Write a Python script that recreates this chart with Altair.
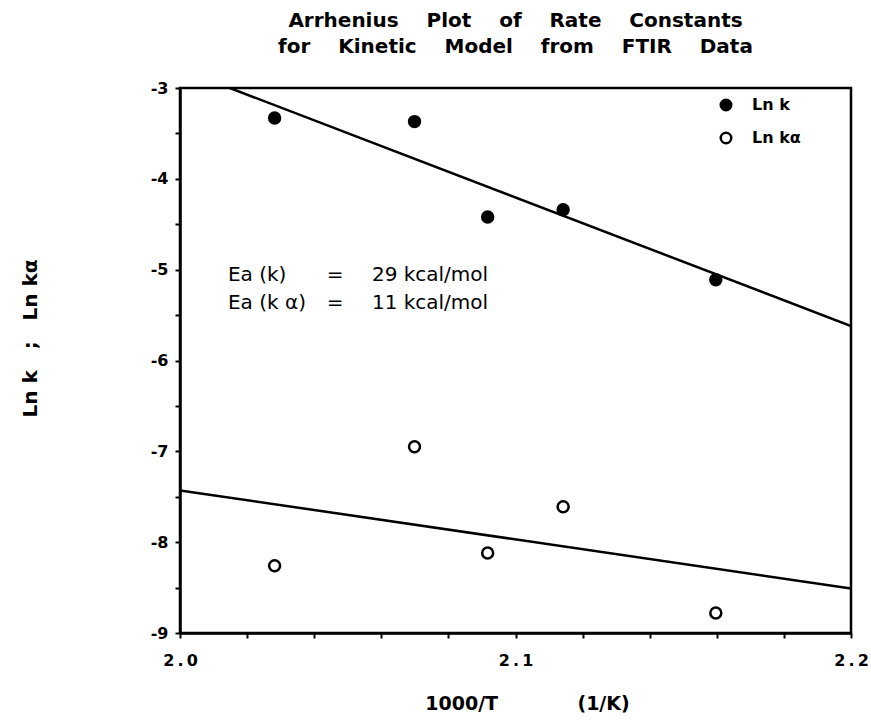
import altair as alt
import pandas as pd

# Reciprocal temperature, 1000/T (1/K)
inv_temp = [2.0282, 2.0699, 2.0917, 2.1142, 2.1597]
# Natural logs of the two rate constants
ln_k = [-3.33, -3.37, -4.42, -4.34, -5.11]
ln_ka = [-8.26, -6.95, -8.12, -7.61, -8.78]
series_names = ["Ln k", "Ln k\u03b1"]

# Least-squares Arrhenius fits, evaluated at the ends of the axis
fit_x = [2.0, 2.2]
fit_k = [-2.79, -5.62]
fit_ka = [-7.43, -8.51]

# Activation energies from the fitted slopes
ea_labels = ["Ea (k)", "Ea (k \u03b1)"]
ea_values = ["29 kcal/mol", "11 kcal/mol"]

FONT = "DejaVu Sans"
NB = "\u00a0"

points = pd.DataFrame({
    "inv_T": inv_temp * 2,
    "ln": ln_k + ln_ka,
    "series": [series_names[0]] * len(ln_k) + [series_names[1]] * len(ln_ka),
})
fits = pd.DataFrame({
    "inv_T": fit_x * 2,
    "ln": fit_k + fit_ka,
    "series": [series_names[0]] * 2 + [series_names[1]] * 2,
})
notes = pd.DataFrame({
    "label": ea_labels,
    "value": ea_values,
    "eq": ["=", "="],
})
notes["y"] = [-5.06, -5.37]

x_ticks = [round(2.0 + 0.02 * i, 2) for i in range(11)]
y_ticks = [-9 + 0.5 * i for i in range(13)]

x_enc = alt.X(
    "inv_T:Q",
    scale=alt.Scale(domain=[2.0, 2.2], nice=False, zero=False),
    axis=alt.Axis(
        values=x_ticks,
        labelExpr="abs(datum.value*10 - round(datum.value*10)) < 0.001 ? "
                  "replace(format(datum.value, '.1f'), '.', '\u2009.\u2009') : ''",
        labelFlush=False,
        title="1000/T" + NB * 12 + "(1/K)",
        titleX=347,
        titleY=70,
        titleBaseline="middle",
        titleAlign="center",
        titleFontSize=19,
        labelPadding=14,
    ),
)
y_enc = alt.Y(
    "ln:Q",
    scale=alt.Scale(domain=[-9, -3], nice=False, zero=False),
    axis=alt.Axis(
        values=y_ticks,
        labelExpr="datum.value % 1 == 0 ? '' + datum.value : ''",
        title="Ln" + NB + "k" + NB * 3 + ";" + NB * 3 + "Ln" + NB + "k\u03b1",
        titleX=-150,
        titleY=250,
        titleAngle=-90,
        titleBaseline="middle",
        titleAlign="center",
        titleFontSize=20,
        labelPadding=7,
    ),
)

lines = alt.Chart(fits).mark_line(color="black", strokeWidth=2.5, clip=True).encode(
    x=x_enc, y=y_enc, detail="series:N"
)

dots = alt.Chart(points).mark_point(
    shape="circle", filled=True, stroke="black", strokeWidth=2.5, size=120, opacity=1
).encode(
    x=x_enc,
    y=y_enc,
    fill=alt.Fill(
        "series:N",
        scale=alt.Scale(domain=series_names, range=["black", "white"]),
        legend=alt.Legend(
            title=None,
            orient="none",
            legendX=538,
            legendY=9,
            padding=0,
            labelFont=FONT,
            labelFontSize=16,
            labelFontWeight="bold",
            labelColor="black",
            labelOffset=18,
            rowPadding=11,
            symbolType="circle",
            symbolSize=110,
            symbolStrokeColor="black",
            symbolStrokeWidth=2.5,
            symbolOpacity=1,
        ),
    ),
)

note_style = dict(font=FONT, fontSize=20, color="black", baseline="middle")
note_left = alt.Chart(notes).mark_text(align="left", **note_style).encode(
    x=alt.datum(2.0143), y="y:Q", text="label:N"
)
note_eq = alt.Chart(notes).mark_text(align="center", **note_style).encode(
    x=alt.datum(2.0462), y="y:Q", text="eq:N"
)
note_right = alt.Chart(notes).mark_text(align="left", **note_style).encode(
    x=alt.datum(2.0572), y="y:Q", text="value:N"
)

gap = NB * 4
chart = alt.layer(lines, dots, note_left, note_eq, note_right).properties(
    width=671,
    height=545,
    background="white",
    padding={"left": 180, "top": 88, "right": 20, "bottom": 87},
    autosize=alt.AutoSizeParams(type="none"),
    title=alt.TitleParams(
        text=[
            gap.join(["Arrhenius", "Plot", "of", "Rate", "Constants"]),
            gap.join(["for", "Kinetic", "Model", "from", "FTIR", "Data"]),
        ],
        font=FONT,
        fontSize=20,
        fontWeight="bold",
        color="black",
        anchor="middle",
        baseline="bottom",
        lineHeight=26,
        offset=3,
    ),
).configure_view(
    stroke="black", strokeWidth=2.5
).configure_axis(
    grid=False,
    domainColor="black",
    domainWidth=2.5,
    tickColor="black",
    tickWidth=2,
    tickSize=5,
    labelFont=FONT,
    labelFontSize=16,
    labelFontWeight="bold",
    labelColor="black",
    titleFont=FONT,
    titleFontWeight="bold",
    titleColor="black",
)

chart.save("out.html", embed_options={"renderer": "svg", "actions": False})
